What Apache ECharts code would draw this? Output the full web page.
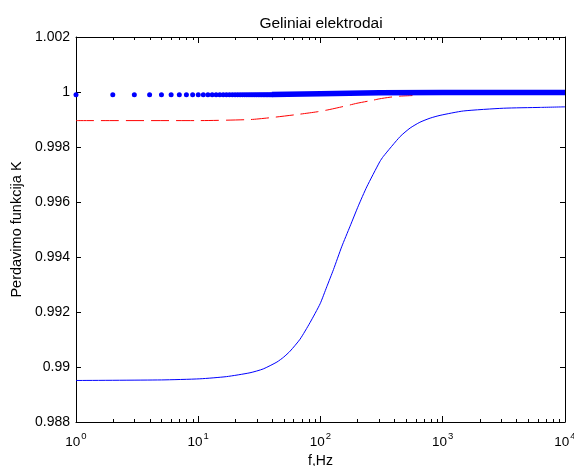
<!DOCTYPE html>
<html>
<head>
<meta charset="utf-8">
<script src="https://cdn.jsdelivr.net/npm/echarts@6/dist/echarts.min.js"></script>
<style>
html,body{margin:0;padding:0;background:#fff;}
#c{width:574px;height:466px;}
</style>
</head>
<body>
<div id="c"></div>
<script>
// ---- Data ----
const titleText = 'Geliniai elektrodai';
const xName = 'f,Hz';
const yName = 'Perdavimo funkcija K';

// y tick labels (0.988 .. 1.002 by 0.002)
const yTickValues = [0.988, 0.990, 0.992, 0.994, 0.996, 0.998, 1.000, 1.002];
const yTickLabels = ['0.988', '0.99', '0.992', '0.994', '0.996', '0.998', '1', '1.002'];
// x tick labels (decades)
const xTickValues = [1, 10, 100, 1000, 10000];
const xTickExponents = ['0', '1', '2', '3', '4'];
// minor log ticks
const xMinorTicks = [2,3,4,5,6,7,8,9,20,30,40,50,60,70,80,90,200,300,400,500,600,700,800,900,2000,3000,4000,5000,6000,7000,8000,9000];

// Blue solid curve
const blueFreq = [1, 5, 10.3, 17, 26.5, 34, 44, 50, 56.5, 68, 82, 99.3, 112.6, 127.6, 149, 174.6, 204, 239, 305, 327, 448, 541, 650, 789, 950, 1476, 3140, 6300, 10000];
const blueVal  = [0.98951, 0.98953, 0.98957, 0.98965, 0.98979, 0.98993, 0.99018, 0.99036, 0.99058, 0.99101, 0.99161, 0.99230, 0.99292, 0.99354, 0.99437, 0.99512, 0.99586, 0.99655, 0.99746, 0.99766, 0.99838, 0.99869, 0.99890, 0.99905, 0.99915, 0.99931, 0.99941, 0.99944, 0.99946];

// Red dashed curve
const redFreq = [1, 10, 27, 41.5, 66.7, 93.9, 115, 136, 174.6, 198.6, 268, 302, 370, 448, 565];
const redVal  = [0.99896, 0.99896, 0.99900, 0.99908, 0.99919, 0.99928, 0.99935, 0.99942, 0.99953, 0.99959, 0.99970, 0.99975, 0.99981, 0.99985, 0.99987];

// Blue dotted series: individual dots at integer frequencies (low end)
const dotFreq = [1,2,3,4,5,6,7,8,9,10,11,12,13,14,15,16,17,18,19,20,21,22,23,24,25,26,27,28,29,30,31,32,33,34,35,36,37,38,39,40];
const dotVal  = [0.99990,0.99990,0.99990,0.99990,0.99990,0.99990,0.99990,0.99990,0.99990,0.99990,0.99990,0.99990,0.99990,0.99990,0.99990,0.99990,0.99990,0.99990,0.99990,0.99990,0.99990,0.99990,0.99990,0.99990,0.99990,0.99990,0.99990,0.99990,0.99990,0.99990,0.99990,0.99990,0.99990,0.99990,0.99990,0.99990,0.99990,0.99990,0.99990,0.99990];
// dense part of the dotted series, where the dots merge into a band
const bandFreq = [40, 100, 300, 1000, 10000];
const bandVal  = [0.99991, 0.99994, 0.99997, 0.99998, 0.99998];

// ---- Chart ----
const FONT = 'Liberation Sans, Arial, sans-serif';
const zip = (a, b) => a.map((v, i) => [v, b[i]]);
const Y_MIN = 0.988, Y_MAX = 1.002;

const chart = echarts.init(document.getElementById('c'), null, {renderer: 'canvas'});
const axisLineStyle = {lineStyle: {color: '#000', width: 1}};
const tickStyle = {inside: true, length: 5, lineStyle: {color: '#000', width: 1}};

chart.setOption({
  animation: false,
  backgroundColor: '#fff',
  title: {
    text: titleText,
    left: 316,
    top: 11,
    textAlign: 'center',
    textStyle: {fontFamily: FONT, fontSize: 15.5, fontWeight: 'normal', color: '#000'}
  },
  grid: {left: 76, right: 9, top: 37, bottom: 44, containLabel: false, outerBoundsMode: 'none'},
  xAxis: [{
    type: 'log', logBase: 10, min: 1, max: 10000, position: 'bottom',
    name: xName, nameLocation: 'middle', nameGap: 28,
    nameTextStyle: {fontFamily: FONT, fontSize: 14, color: '#000'},
    axisLine: Object.assign({onZero: false}, axisLineStyle),
    axisTick: Object.assign({}, tickStyle, {length: 6}),
    splitLine: {show: false},
    axisLabel: {
      margin: 9,
      formatter: v => {
        const i = xTickValues.findIndex(t => Math.abs(Math.log10(t) - Math.log10(v)) < 1e-6);
        return i < 0 ? '' : '{b|10}{s|' + xTickExponents[i] + '}';
      },
      rich: {
        b: {fontFamily: FONT, fontSize: 13.5, color: '#000', lineHeight: 18, verticalAlign: 'bottom'},
        s: {fontFamily: FONT, fontSize: 9.5, color: '#000', lineHeight: 18, verticalAlign: 'top', padding: [0, 0, 0, 1]}
      }
    }
  }, {
    type: 'log', logBase: 10, min: 1, max: 10000, position: 'top',
    axisLine: Object.assign({onZero: false}, axisLineStyle),
    axisTick: Object.assign({}, tickStyle, {length: 6}),
    axisLabel: {show: false}, splitLine: {show: false}
  }],
  yAxis: [{
    type: 'value', min: Y_MIN, max: Y_MAX, interval: 0.002, position: 'left',
    name: yName, nameLocation: 'middle', nameGap: 52, nameRotate: 90,
    nameTextStyle: {fontFamily: FONT, fontSize: 14.5, color: '#000'},
    axisLine: Object.assign({onZero: false}, axisLineStyle),
    axisTick: tickStyle,
    splitLine: {show: false},
    axisLabel: {
      margin: 6, fontFamily: FONT, fontSize: 14, color: '#000',
      formatter: v => {
        const i = yTickValues.findIndex(t => Math.abs(t - v) < 1e-7);
        return i < 0 ? '' : yTickLabels[i];
      }
    }
  }, {
    type: 'value', min: Y_MIN, max: Y_MAX, interval: 0.002, position: 'right',
    axisLine: Object.assign({onZero: false}, axisLineStyle),
    axisTick: tickStyle,
    axisLabel: {show: false}, splitLine: {show: false}
  }],
  series: [
    {
      type: 'custom', name: 'minorTicks', silent: true, clip: false, z: 10,
      xAxisIndex: 0, yAxisIndex: 0,
      data: xMinorTicks.map(f => [f, Y_MIN]),
      renderItem: (params, api) => {
        const f = api.value(0);
        const b = api.coord([f, Y_MIN]);
        const t = api.coord([f, Y_MAX]);
        const st = {stroke: '#000', lineWidth: 1};
        const bx = Math.round(b[0]) + 0.5;
        return {type: 'group', children: [
          {type: 'line', shape: {x1: bx, y1: b[1], x2: bx, y2: b[1] - 3}, style: st},
          {type: 'line', shape: {x1: bx, y1: t[1], x2: bx, y2: t[1] + 3}, style: st}
        ]};
      }
    },
    {
      type: 'line', name: 'blue', data: zip(blueFreq, blueVal), showSymbol: false,
      smooth: 0.2,
      lineStyle: {color: '#0000ff', width: 1}, itemStyle: {color: '#0000ff'}, z: 2
    },
    {
      type: 'line', name: 'red', data: zip(redFreq, redVal), showSymbol: false,
      smooth: 0.2,
      lineStyle: {color: '#ff0000', width: 1, type: [18, 7]}, itemStyle: {color: '#ff0000'}, z: 2
    },
    {
      type: 'line', name: 'dotsBand', data: zip(bandFreq, bandVal), showSymbol: false,
      lineStyle: {color: '#0000ff', width: 5.5}, itemStyle: {color: '#0000ff'}, z: 3
    },
    {
      type: 'scatter', name: 'dots', data: zip(dotFreq, dotVal), symbol: 'circle', symbolSize: 5,
      itemStyle: {color: '#0000ff', opacity: 1}, z: 3, clip: false
    }
  ]
});
</script>
</body>
</html>
